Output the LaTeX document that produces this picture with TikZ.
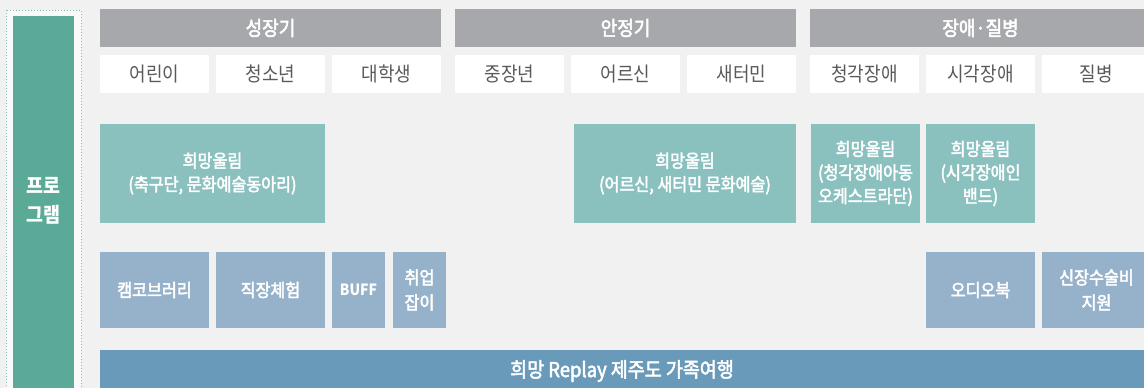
\documentclass[tikz,border=0pt]{standalone}
\usepackage{fontspec}
\setmainfont[FakeStretch=0.9]{Noto Sans CJK KR}
\newfontfamily\krmed[FakeStretch=0.9,FakeBold=2.5]{Noto Sans CJK KR}
\usepackage{tikz}
\usetikzlibrary{positioning}
\definecolor{bgc}{HTML}{F1F1F1}
\definecolor{hdrc}{HTML}{A7A8AB}
\definecolor{subtxt}{HTML}{5A5A5A}
\definecolor{hopec}{HTML}{8AC1BF}
\definecolor{progc}{HTML}{96B2CB}
\definecolor{tripc}{HTML}{6A9AB9}
\definecolor{greenc}{HTML}{5BAA97}
\definecolor{dotc}{HTML}{7FC4B5}
\tikzset{
  box/.style={anchor=north west,inner sep=0pt,outer sep=0pt,align=center},
  hdr/.style={box,fill=hdrc,text=white,minimum width=341pt,minimum height=38pt,
    font=\krmed\fontsize{20}{22}\selectfont},
  sub/.style={box,fill=white,text=subtxt,minimum width=109pt,minimum height=38pt,
    font=\fontsize{20}{22}\selectfont},
  hope/.style={box,fill=hopec,text=white,minimum height=99pt,
    font=\krmed\fontsize{18}{23.5}\selectfont},
  prog/.style={box,fill=progc,text=white,minimum height=76pt,
    font=\krmed\fontsize{18}{25}\selectfont},
  trip/.style={box,fill=tripc,text=white,minimum height=42pt,
    font=\krmed\fontsize{20.5}{22}\selectfont},
  side/.style={box,fill=greenc,minimum width=61pt,minimum height=376pt},
}
\begin{document}
\begin{tikzpicture}[x=1pt,y=-1pt]
  \useasboundingbox[fill=bgc] (0,0) rectangle (1144,388);
  % left column
  \draw[dotc,dotted,line width=1pt,fill=white!60!bgc] (6,10) rectangle (81,392);
  \node[side] (prg) at (13,16) {};
  \node[white,font=\fontsize{20.5}{28.5}\selectfont\bfseries,align=center]
    (prglbl) at (43.5,201) {프로\\그램};
  % age groups
  \node[hdr] (grow) at (100,9) {성장기};
  \node[hdr] (stab) at (455,9) {안정기};
  \node[hdr] (dis) at (810,9) {장애·질병};
  \foreach \nm/\x/\txt in {kid/100/어린이, teen/216/청소년, univ/332/대학생,
      mid/455/중장년, old/571/어르신, nk/687/새터민,
      hear/810/청각장애, see/926/시각장애, ill/1042/질병}
    \node[sub] (\nm) at (\x,55) {\txt};
  % hope programs
  \node[hope,minimum width=225pt] (hope1) at (100,124)
    {희망울림\\(축구단, 문화예술동아리)};
  \node[hope,minimum width=222pt] (hope2) at (574,124)
    {희망울림\\(어르신, 새터민 문화예술)};
  \node[hope,minimum width=109pt] (hope3) at (811,124)
    {희망울림\\(청각장애아동\\오케스트라단)};
  \node[hope,minimum width=109pt] (hope4) at (926,124)
    {희망울림\\(시각장애인\\밴드)};
  % support programs
  \node[prog,minimum width=109pt] (camco) at (100,252) {캠코브러리};
  \node[prog,minimum width=109pt] (job) at (216,252) {직장체험};
  \node[prog,minimum width=53pt,font=\fontsize{15.5}{25}\selectfont\bfseries]
    (buff) at (332,252) {BUFF};
  \node[prog,minimum width=53pt] (work) at (393,252) {취업\\잡이};
  \node[prog,minimum width=109pt] (audio) at (926,252) {오디오북};
  \node[prog,minimum width=109pt] (kidney) at (1042,252) {신장수술비\\지원};
  % family trip
  \node[trip,minimum width=1044pt] (trip) at (100,350)
    {\raisebox{2pt}{희망 Replay 제주도 가족여행}};
\end{tikzpicture}
\end{document}
